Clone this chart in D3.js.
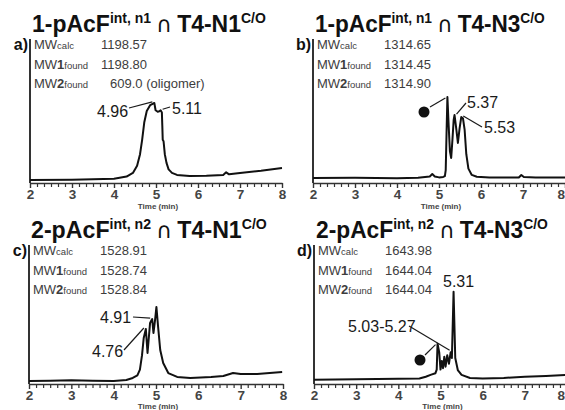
<!DOCTYPE html>
<html>
<head>
<meta charset="utf-8">
<script src="https://cdn.jsdelivr.net/npm/d3@7/dist/d3.min.js"></script>
<style>
  html, body { margin: 0; padding: 0; background: #fff; }
  svg { display: block; }
</style>
</head>
<body>
<svg id="chart" width="565" height="410"></svg>
<script>
// Retention-time axis (min)
const xTicks = [2, 3, 4, 5, 6, 7, 8];
const minorPerMinute = 6;
const timeLabel = "Time (min)";

// Panel headings: peptide, superscript, operator, target, superscript
const panelLetters = ["a)", "b)", "c)", "d)"];
const titleParts = [
  ["1-pAcF", "int, n1", "\u2229", "T4-N1", "C/O"],
  ["1-pAcF", "int, n1", "\u2229", "T4-N3", "C/O"],
  ["2-pAcF", "int, n2", "\u2229", "T4-N1", "C/O"],
  ["2-pAcF", "int, n2", "\u2229", "T4-N3", "C/O"]
];

// Masses (calculated / found)
const mwCalc   = ["1198.57", "1314.65", "1528.91", "1643.98"];
const mwFound1 = ["1198.80", "1314.45", "1528.74", "1644.04"];
const mwFound2 = ["609.0 (oligomer)", "1314.90", "1528.84", "1644.04"];

// LC traces: retention time (min) and relative signal (%)
const timeA   = [2.0, 3.0, 3.5, 4.0, 4.3, 4.45, 4.55, 4.62, 4.67, 4.72, 4.78, 4.86, 4.92, 4.96, 4.99, 5.04, 5.08, 5.11, 5.14, 5.15, 5.16, 5.18, 5.21, 5.25, 5.3, 5.38, 5.5, 5.8, 6.2, 6.6, 6.67, 6.74, 7.0, 7.5, 8.0];
const signalA = [2.1, 2.3, 2.6, 2.9, 4.5, 7.0, 12, 20, 30, 42, 50, 54, 55, 55.6, 50.5, 49.5, 49.8, 50.5, 49, 40, 30, 29, 20, 14, 9.5, 7.0, 5.6, 4.8, 5.0, 5.6, 7.4, 6.0, 7.0, 8.5, 10.4];

const timeB   = [2.0, 3.0, 4.0, 4.5, 4.78, 4.84, 4.9, 5.0, 5.1, 5.14, 5.16, 5.18, 5.2, 5.23, 5.26, 5.29, 5.32, 5.35, 5.37, 5.41, 5.45, 5.49, 5.53, 5.57, 5.61, 5.65, 5.7, 5.78, 5.9, 6.2, 6.9, 6.96, 7.02, 7.3, 8.0];
const signalB = [3.5, 3.6, 3.3, 3.6, 4.5, 6.2, 4.5, 3.9, 4.2, 4.8, 9, 35, 59.7, 40, 22, 17.4, 30, 44, 47.2, 38, 27.8, 38, 45.8, 45, 37, 20, 10, 5.6, 4.3, 3.8, 3.8, 5.6, 4.2, 3.8, 3.8];

const timeC   = [2.0, 2.5, 3.0, 3.5, 4.0, 4.3, 4.45, 4.56, 4.62, 4.67, 4.71, 4.76, 4.8, 4.86, 4.91, 4.94, 4.98, 5.01, 5.05, 5.1, 5.17, 5.29, 5.5, 5.81, 6.3, 6.59, 6.82, 7.0, 7.39, 7.98];
const signalC = [2.1, 2.3, 2.6, 2.3, 2.1, 2.8, 4.2, 6.0, 10, 20, 32, 38.2, 21.5, 42.4, 45.1, 35.4, 45, 53.5, 39.6, 23.6, 14.6, 7.6, 4.9, 4.2, 4.9, 5.6, 7.6, 6.9, 6.9, 8.3];

const timeD   = [2.0, 3.0, 4.0, 4.5, 4.65, 4.78, 4.88, 4.91, 4.93, 4.97, 5.0, 5.03, 5.06, 5.09, 5.12, 5.16, 5.2, 5.24, 5.27, 5.31, 5.35, 5.41, 5.5, 5.7, 6.0, 6.5, 7.0, 7.5, 8.0];
const signalD = [3.0, 3.3, 3.6, 3.8, 5.0, 6.5, 7.5, 10, 28, 22, 10, 16, 11, 19, 12, 20, 14, 22, 18, 64, 18, 9.7, 6.3, 4.2, 3.8, 4.2, 5.0, 5.6, 6.3];

// Annotated retention times (min)
const peaksA = [4.96, 5.11];
const peaksB = [5.37, 5.53];
const peaksC = [4.76, 4.91];
const peaksD = [5.31];
const rangeD = [5.03, 5.27];
const dotPeaks = [null, 5.20, null, 4.93];

const traces = [
  d3.zip(timeA, signalA),
  d3.zip(timeB, signalB),
  d3.zip(timeC, signalC),
  d3.zip(timeD, signalD)
];

// Panel frames
const W = 565;
const panels = [
  { ox: 30,  x8: 282, axisY: 183, topY: 39,  titleY: 32,  titleW: 234, timeDy: 26 },
  { ox: 313, x8: 565, axisY: 183, topY: 39,  titleY: 32,  titleW: 230, timeDy: 26 },
  { ox: 29,  x8: 283, axisY: 384, topY: 245, titleY: 238, titleW: 236, timeDy: 25 },
  { ox: 314, x8: 567, axisY: 384, topY: 245, titleY: 238, titleW: 232, timeDy: 25 }
];

// Label placement for the peak call-outs (text position, leader start)
const callouts = [
  [ { t: peaksA[0], lx: 97,  ly: 117, fx: 129, fy: 108 },
    { t: peaksA[1], lx: 172, ly: 114, fx: 170, fy: 107 } ],
  [ { t: peaksB[0], lx: 467, ly: 108, fx: 466, fy: 103 },
    { t: peaksB[1], lx: 484, ly: 133, fx: 482, fy: 127 } ],
  [ { t: peaksC[1], lx: 100, ly: 323, fx: 133, fy: 317 },
    { t: peaksC[0], lx: 92,  ly: 357, fx: 124, fy: 350 } ],
  [ { t: peaksD[0], lx: 443, ly: 287 } ]
];
const dotMarks = [null, { cx: 424, cy: 112, fx: 430, fy: 107 }, null, { cx: 420, cy: 360, fx: 425, fy: 355 }];

const svg = d3.select("#chart");
const fmt = d3.format(".2f");
const FONT = "'Liberation Sans', Arial, sans-serif";
const textGray = "#3d3d3d";

function signalAt(trace, t) {
  let best = trace[0];
  trace.forEach(p => { if (Math.abs(p[0] - t) < Math.abs(best[0] - t)) best = p; });
  return best[1];
}

panels.forEach((p, i) => {
  const g = svg.append("g");
  const x = d3.scaleLinear().domain([2, 8]).range([p.ox, p.x8]);
  const y = d3.scaleLinear().domain([0, 100]).range([p.axisY, p.axisY - 144]);
  const trace = traces[i];

  // heading
  const tp = titleParts[i];
  const title = g.append("text")
    .attr("font-family", FONT).attr("font-weight", "bold").attr("fill", "#111");
  title.append("tspan").attr("font-size", 23).text(tp[0]);
  title.append("tspan").attr("font-size", 14).attr("dy", -9).text(tp[1]);
  title.append("tspan").attr("font-size", 22).attr("dy", 9)
    .attr("font-family", "'DejaVu Sans', sans-serif").attr("font-weight", "normal")
    .attr("dx", 5).text(tp[2]);
  title.append("tspan").attr("font-size", 23).attr("dx", 5).text(tp[3]);
  title.append("tspan").attr("font-size", 14).attr("dy", -9).text(tp[4]);
  const tw = title.node().getComputedTextLength() + 10;
  title.attr("transform", `translate(${p.ox + 2},${p.titleY}) scale(${p.titleW / tw},1)`);

  // panel letter
  g.append("text")
    .attr("x", p.ox - 2).attr("y", p.titleY + 18)
    .attr("text-anchor", "end")
    .attr("font-family", FONT).attr("font-weight", "bold").attr("font-size", 16)
    .attr("fill", "#111")
    .text(panelLetters[i]);

  // mass table
  const rows = [
    { pre: "MW", num: "", sub: "calc", val: mwCalc[i], dx: 0 },
    { pre: "MW", num: "1", sub: "found", val: mwFound1[i], dx: 0 },
    { pre: "MW", num: "2", sub: "found", val: mwFound2[i], dx: i === 0 ? 9 : 0 }
  ];
  rows.forEach((r, k) => {
    const yy = p.titleY + 17 + k * 19.5;
    const t = g.append("text").attr("x", p.ox + 4).attr("y", yy)
      .attr("font-family", FONT).attr("font-size", 13).attr("fill", textGray);
    t.append("tspan").text(r.pre);
    if (r.num) t.append("tspan").attr("font-weight", "bold").text(r.num);
    t.append("tspan").attr("font-size", 9.5).text(r.sub);
    g.append("text").attr("x", p.ox + 71 + r.dx).attr("y", yy)
      .attr("font-family", FONT).attr("font-size", 13).attr("fill", textGray)
      .text(r.val);
  });

  // axes
  g.append("line")
    .attr("x1", p.ox).attr("x2", p.ox)
    .attr("y1", p.topY).attr("y2", p.axisY)
    .attr("stroke", "#333").attr("stroke-width", 2);

  const minor = d3.range(0, 6 * minorPerMinute + 1)
    .map(k => 2 + k / minorPerMinute)
    .filter(v => Math.abs(v - Math.round(v)) > 1e-6);

  const axMinor = g.append("g").attr("transform", `translate(0,${p.axisY})`)
    .call(d3.axisBottom(x).tickValues(minor).tickSize(4).tickSizeOuter(0).tickFormat(""));
  axMinor.select(".domain").remove();
  axMinor.selectAll("line").attr("stroke", "#333").attr("stroke-width", 1.2);

  const axMajor = g.append("g").attr("transform", `translate(0,${p.axisY})`)
    .call(d3.axisBottom(x).tickValues(xTicks).tickSize(5).tickSizeOuter(0).tickPadding(1).tickFormat(d3.format("d")));
  axMajor.select(".domain").attr("stroke", "#333").attr("stroke-width", 1.6);
  axMajor.selectAll("line").attr("stroke", "#333").attr("stroke-width", 1.4);
  axMajor.selectAll("text")
    .attr("font-family", "'Liberation Sans Narrow', 'Liberation Sans', sans-serif")
    .attr("font-weight", "bold").attr("font-size", 13.5).attr("fill", "#444")
    .each(function () {
      // keep the last label inside the page
      const b = this.getBBox();
      const tick = this.parentNode.getAttribute("transform");
      const tx = +tick.match(/translate\(([-\d.]+)/)[1];
      if (tx + b.x + b.width > W) d3.select(this).attr("text-anchor", "end").attr("x", W - tx);
    });

  g.append("text")
    .attr("x", x(5) + 2).attr("y", p.axisY + p.timeDy)
    .attr("text-anchor", "middle")
    .attr("font-family", FONT).attr("font-weight", "bold").attr("font-size", 8)
    .attr("fill", "#444")
    .text(timeLabel);

  // trace
  g.append("path")
    .datum(trace)
    .attr("d", d3.line().x(d => x(d[0])).y(d => y(d[1])))
    .attr("fill", "none").attr("stroke", "#111")
    .attr("stroke-width", 2).attr("stroke-linejoin", "round");

  // peak call-outs
  callouts[i].forEach(c => {
    g.append("text").attr("x", c.lx).attr("y", c.ly)
      .attr("font-family", FONT).attr("font-size", 16).attr("fill", "#1a1a1a")
      .text(fmt(c.t));
    if (c.fx !== undefined) {
      g.append("line")
        .attr("x1", c.fx).attr("y1", c.fy)
        .attr("x2", x(c.t) + (c.fx > x(c.t) ? 2 : -2)).attr("y2", y(signalAt(trace, c.t)) - 1)
        .attr("stroke", "#1a1a1a").attr("stroke-width", 1.2);
    }
  });

  // unassigned-peak markers
  if (dotMarks[i]) {
    const m = dotMarks[i];
    g.append("circle").attr("cx", m.cx).attr("cy", m.cy).attr("r", 5.5).attr("fill", "#111");
    g.append("line")
      .attr("x1", m.fx).attr("y1", m.fy)
      .attr("x2", x(dotPeaks[i]) - 2).attr("y2", y(signalAt(trace, dotPeaks[i])) + 1)
      .attr("stroke", "#1a1a1a").attr("stroke-width", 1.2);
  }

  // retention-time range call-out
  if (i === 3) {
    g.append("text").attr("x", 348).attr("y", 332)
      .attr("font-family", FONT).attr("font-size", 16).attr("fill", "#1a1a1a")
      .text(`${fmt(rangeD[0])}-${fmt(rangeD[1])}`);
    g.append("line")
      .attr("x1", 409).attr("y1", 326)
      .attr("x2", x(5.24) - 1).attr("y2", y(signalAt(trace, 5.24)) - 2)
      .attr("stroke", "#1a1a1a").attr("stroke-width", 1.2);
  }
});
</script>
</body>
</html>
